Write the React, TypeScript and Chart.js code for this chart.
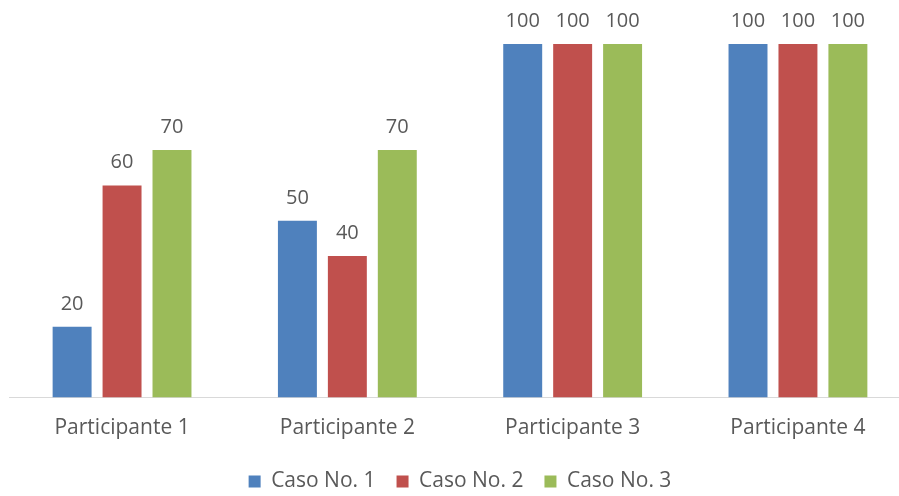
import React, { useEffect, useRef } from "react";
import { Chart, registerables } from "chart.js";

Chart.register(...registerables);

const categories = ["Participante 1", "Participante 2", "Participante 3", "Participante 4"];
const seriesNames = ["Caso No. 1", "Caso No. 2", "Caso No. 3"];
const caso1 = [20, 50, 100, 100];
const caso2 = [60, 40, 100, 100];
const caso3 = [70, 70, 100, 100];
const colors = ["#4f81bd", "#c0504d", "#9bbb59"];

const FONT = "'Open Sans', sans-serif";
const TEXT = "#595959";

const valueLabels = {
  id: "valueLabels",
  afterDatasetsDraw(chart: any) {
    const ctx = chart.ctx;
    ctx.save();
    ctx.font = `20px ${FONT}`;
    ctx.fillStyle = TEXT;
    ctx.textAlign = "center";
    ctx.textBaseline = "alphabetic";
    chart.data.datasets.forEach((ds: any, i: number) => {
      const meta = chart.getDatasetMeta(i);
      meta.data.forEach((bar: any, j: number) => {
        ctx.fillText(String(ds.data[j]), bar.x, bar.y - 17);
      });
    });
    ctx.restore();
  },
};

export default function App() {
  const ref = useRef<HTMLCanvasElement | null>(null);
  useEffect(() => {
    if (!ref.current) return;
    const data = [caso1, caso2, caso3];
    const chart = new Chart(ref.current, {
      type: "bar",
      data: {
        labels: categories,
        datasets: seriesNames.map((name, i) => ({
          label: name,
          data: data[i],
          backgroundColor: colors[i],
          borderWidth: 0,
          categoryPercentage: 0.665,
          barPercentage: 0.78,
        })),
      },
      options: {
        animation: false,
        responsive: true,
        maintainAspectRatio: false,
        layout: { padding: { top: 44, left: 9.4, right: 9.4, bottom: 0 } },
        plugins: {
          tooltip: { enabled: false },
          legend: {
            position: "bottom",
            labels: {
              boxWidth: 12,
              boxHeight: 12,
              padding: 21,
              color: TEXT,
              font: { family: FONT, size: 21 },
            },
          },
        },
        scales: {
          x: {
            grid: { display: false, drawTicks: false },
            border: { display: true, color: "#d9d9d9", width: 1 },
            ticks: { color: TEXT, font: { family: FONT, size: 21 }, padding: 18 },
            afterFit: (s: any) => { s.height = 52.5; },
          },
          y: {
            display: false,
            min: 0,
            max: 100,
          },
        },
      },
      plugins: [valueLabels],
    });
    return () => chart.destroy();
  }, []);
  return (
    <div style={{ position: "fixed", left: 0, top: 0, width: 899, height: 496, overflow: "hidden", background: "#fff" }}>
      <div style={{ position: "absolute", left: 0, top: 0, width: 920, height: 502 }}>
        <canvas ref={ref} />
      </div>
    </div>
  );
}
